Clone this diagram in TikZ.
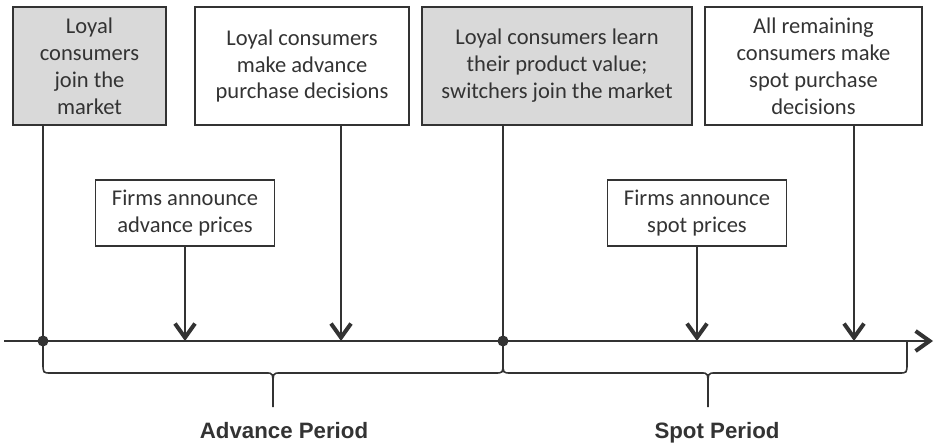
\documentclass[tikz,border=0pt]{standalone}
\usepackage{fontspec}
\setmainfont{Carlito}
\newfontfamily\periodfont{Liberation Sans}
\usetikzlibrary{arrows.meta}
\definecolor{stepgray}{HTML}{D9D9D9}
\definecolor{ink}{HTML}{333333}

\tikzset{
  event/.style={draw=ink,line width=1.1pt,align=center,text=ink,inner sep=2pt,
    font=\fontsize{16.9}{20.2}\selectfont},
  chev/.style={-{Straight Barb[length=10.5pt,width=15pt,line width=3pt]}},
  tick/.style={ink,line width=1.2pt},
  period/.style={text=ink,anchor=base,font=\periodfont\bfseries\fontsize{16.7}{20}\selectfont},
}

\begin{document}
\begin{tikzpicture}[x=0.75pt,y=-0.75pt]
  \useasboundingbox (0,0) rectangle (934,446);
  % events above the time line
  \node[event,fill=stepgray,minimum width=114.75pt,minimum height=88.5pt] (loyalJoin) at (89.5,66)
       {Loyal\\consumers\\join the\\market};
  \node[event,minimum width=160.5pt,minimum height=88.5pt] (advDecide) at (302,66)
       {Loyal consumers\\make advance\\purchase decisions};
  \node[event,fill=stepgray,minimum width=202.5pt,minimum height=88.5pt] (learnValue) at (557,66)
       {Loyal consumers learn\\their product value;\\switchers join the market};
  \node[event,minimum width=162.75pt,minimum height=88.5pt] (spotDecide) at (813.5,66)
       {All remaining\\consumers make\\spot purchase\\decisions};
  \node[event,minimum width=134.25pt,minimum height=49.5pt] (advPrice) at (185,213)
       {Firms announce\\advance prices};
  \node[event,minimum width=134.25pt,minimum height=49.5pt] (spotPrice) at (697,213)
       {Firms announce\\spot prices};
  % points on the time line
  \coordinate (tStart) at (4,341);
  \coordinate (tEnd) at (933,341);
  \coordinate (tJoin) at (43,341);
  \coordinate (tAdvPrice) at (185,341);
  \coordinate (tAdvDecide) at (341,341);
  \coordinate (tLearn) at (503,341);
  \coordinate (tSpotPrice) at (697,341);
  \coordinate (tSpotDecide) at (854,341);
  \draw[tick,chev] (tStart) -- (tEnd);
  \draw[tick] (loyalJoin.south -| tJoin) -- (tJoin);
  \draw[tick] (learnValue.south -| tLearn) -- (tLearn);
  \draw[tick,chev] (advDecide.south -| tAdvDecide) -- (tAdvDecide);
  \draw[tick,chev] (spotDecide.south -| tSpotDecide) -- (tSpotDecide);
  \draw[tick,chev] (advPrice) -- (tAdvPrice);
  \draw[tick,chev] (spotPrice) -- (tSpotPrice);
  \fill[ink] (tJoin) circle (5.5) (tLearn) circle (5.5);
  % braces under the two periods
  \foreach \a/\m/\b in {43/273/503,503/708/907}{
    \draw[tick] (\a,341) -- (\a,363) .. controls (\a,373) .. (\a+8,373) -- (\m-7,373)
      .. controls (\m,373) .. (\m,387) -- (\m,407);
    \draw[tick] (\m,387) .. controls (\m,373) .. (\m+7,373) -- (\b-8,373)
      .. controls (\b,373) .. (\b,363) -- (\b,341);
  }
  \node[period] (advLabel) at (284,438) {Advance Period};
  \node[period] (spotLabel) at (717,438) {Spot Period};
\end{tikzpicture}
\end{document}
